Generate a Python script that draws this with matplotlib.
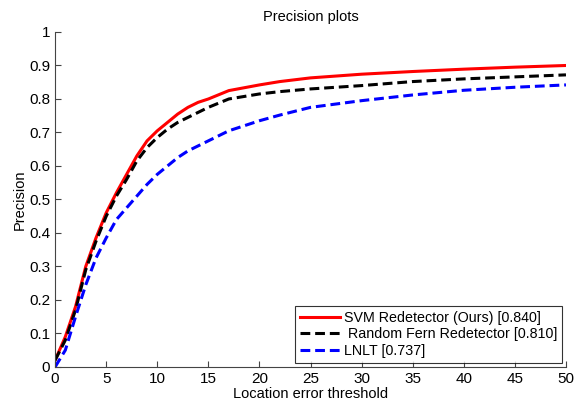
import matplotlib
matplotlib.use('Agg')
import matplotlib.pyplot as plt

plt.rcParams['font.family'] = ['Liberation Sans', 'DejaVu Sans']

# location error thresholds (pixels) and precision
thresholds = [0, 1, 2, 3, 4, 5, 6, 7, 8, 9, 10, 11, 12, 13, 14, 15, 17, 20, 22, 25, 30, 35, 40, 45, 50]
svm = [0.02, 0.09, 0.18, 0.30, 0.385, 0.46, 0.52, 0.575, 0.63, 0.675, 0.705, 0.73, 0.755, 0.775,
       0.79, 0.80, 0.825, 0.842, 0.852, 0.863, 0.874, 0.882, 0.889, 0.895, 0.90]
fern = [0.02, 0.08, 0.17, 0.29, 0.375, 0.45, 0.51, 0.56, 0.615, 0.655, 0.685, 0.71, 0.73, 0.745,
        0.76, 0.775, 0.80, 0.815, 0.822, 0.83, 0.84, 0.852, 0.86, 0.866, 0.872]
lnlt = [0.0, 0.05, 0.15, 0.245, 0.325, 0.385, 0.44, 0.475, 0.51, 0.545, 0.575, 0.60, 0.625, 0.645,
        0.66, 0.675, 0.705, 0.735, 0.752, 0.775, 0.795, 0.812, 0.826, 0.835, 0.842]

labels = ['SVM Redetector (Ours) [0.840]', ' Random Fern Redetector [0.810]', 'LNLT [0.737]']

fig = plt.figure(figsize=(5.74, 4.05), dpi=100)
ax = fig.add_axes([0.096, 0.094, 0.89, 0.827])

ax.plot(thresholds, svm, color='red', lw=2.2, label=labels[0])
ax.plot(thresholds, fern, color='black', lw=2.2, ls=(0, (3.2, 1.6)), label=labels[1])
ax.plot(thresholds, lnlt, color='blue', lw=2.2, ls=(0, (3.2, 1.6)), label=labels[2])

ax.set_xlim(0, 50)
ax.set_ylim(0, 1)
ax.set_xticks(range(0, 51, 5))
ax.set_yticks([i / 10 for i in range(11)])
ax.set_yticklabels(['0', '0.1', '0.2', '0.3', '0.4', '0.5', '0.6', '0.7', '0.8', '0.9', '1'])
ax.tick_params(direction='in', length=4, labelsize=11, colors='#444444', labelcolor='black')
for side in ['top', 'right']:
    ax.spines[side].set_visible(False)
for side in ['left', 'bottom']:
    ax.spines[side].set_color('#444444')

ax.set_title('Precision plots', fontsize=10.5, pad=8)
ax.set_xlabel('Location error threshold', fontsize=10.5, labelpad=1)
ax.set_ylabel('Precision', fontsize=10.5, labelpad=2)

leg = ax.legend(loc='lower right', fontsize=10.3, frameon=True, fancybox=False,
                borderaxespad=0.3, handlelength=2.8, handletextpad=0.3,
                labelspacing=0.2, borderpad=0.3)
leg.get_frame().set_edgecolor('black')
leg.get_frame().set_linewidth(0.8)

fig.savefig('out.png', dpi=100)
